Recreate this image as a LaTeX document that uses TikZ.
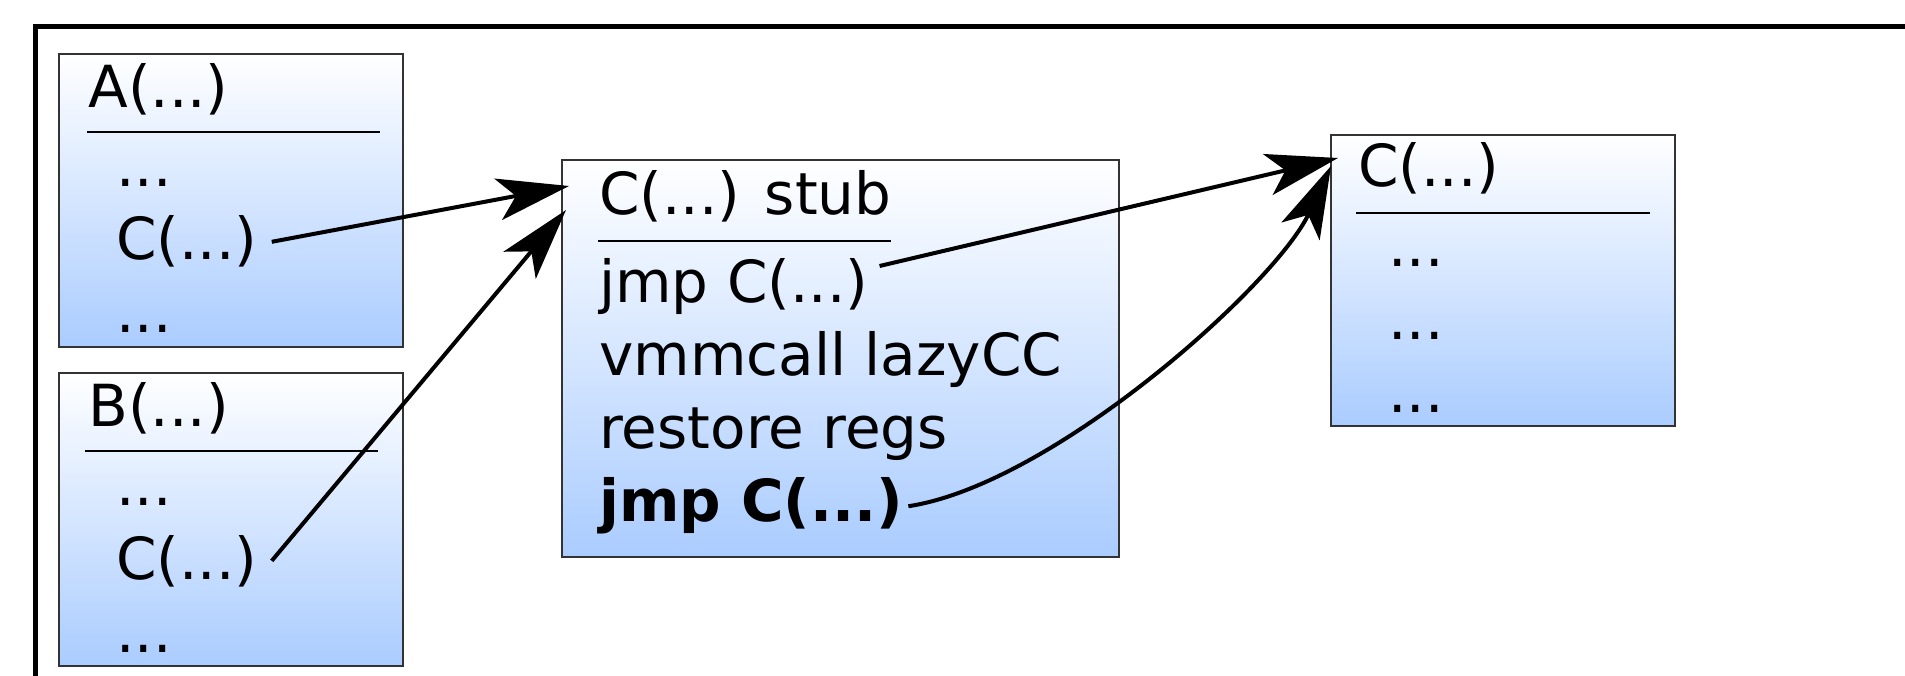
\documentclass[tikz,border=0pt]{standalone}
\usepackage{fontspec}
\setmainfont{DejaVu Sans}
\usetikzlibrary{arrows.meta}

\definecolor{boxblue}{RGB}{170,204,255}
\definecolor{boxmid}{RGB}{224,236,255}
\definecolor{boxline}{RGB}{51,51,51}

\begin{document}
\begin{tikzpicture}[every node/.style={font=\fontsize{33}{40}\selectfont,inner sep=0pt,anchor=base west},
  fnbox/.style 2 args={draw=boxline,line width=.04cm,top color=white,middle color=boxmid,bottom color=boxblue,
    anchor=north west,minimum width=#1cm,minimum height=#2cm},
  sepline/.style={line width=.03cm},
  callarrow/.style={line width=.08cm,-{Stealth[length=1.44cm,width=.84cm,inset=.36cm]}}]
\useasboundingbox (0,0) rectangle (38.1,-13.52);
\clip (0,0) rectangle (38.1,-13.52);
\draw[line width=.10cm] (0.70,-0.54) rectangle (40,-15);
% caller A
\node[fnbox={6.88}{5.86}] (aBox) at (1.16,-1.06) {};
\node (aName) at (1.76,-2.16) {A(...)};
\draw[sepline] (1.74,-2.64) -- (7.60,-2.64);
\node (aTop) at (2.32,-3.74) {...};
\node (aCall) at (2.32,-5.20) {C(...)};
\node (aEnd) at (2.32,-6.66) {...};
% caller B
\node[fnbox={6.88}{5.86}] (bBox) at (1.16,-7.44) {};
\node (bName) at (1.76,-8.54) {B(...)};
\draw[sepline] (1.70,-9.02) -- (7.56,-9.02);
\node (bTop) at (2.32,-10.12) {...};
\node (bCall) at (2.32,-11.58) {C(...)};
\node (bEnd) at (2.32,-13.04) {...};
% stub
\node[fnbox={11.14}{7.94}] (stubBox) at (11.22,-3.18) {};
\node (stubName) at (11.98,-4.30) {C(...) stub};
\draw[sepline] (11.96,-4.82) -- (17.82,-4.82);
\node (stubJmp) at (11.98,-6.06) {jmp C(...)};
\node (stubCall) at (11.98,-7.52) {vmmcall lazyCC};
\node (stubRegs) at (11.98,-8.98) {restore regs};
\node (stubBold) at (11.98,-10.44) {\bfseries jmp C(...)};
% callee C
\node[fnbox={6.88}{5.82}] (cBox) at (26.60,-2.68) {};
\node (cName) at (27.16,-3.74) {C(...)};
\draw[sepline] (27.12,-4.26) -- (33.00,-4.26);
\node (cOne) at (27.76,-5.34) {...};
\node (cTwo) at (27.76,-6.80) {...};
\node (cThree) at (27.76,-8.26) {...};
% calls
\draw[callarrow] ([xshift=.28cm]aCall.east) -- ([shift={(.16,-.54)}]stubBox.north west);
\draw[callarrow] ([xshift=.28cm]bCall.east) -- ([shift={(.10,-1.02)}]stubBox.north west);
\draw[callarrow] ([shift={(.22,.42)}]stubJmp.east) -- ([shift={(.16,-.48)}]cBox.north west);
\draw[callarrow] ([xshift=.1cm]stubBold.east) .. controls +(2.9,.44) and +(-1.1,-2.36) .. ([shift={(.02,-.64)}]cBox.north west);
\end{tikzpicture}
\end{document}
